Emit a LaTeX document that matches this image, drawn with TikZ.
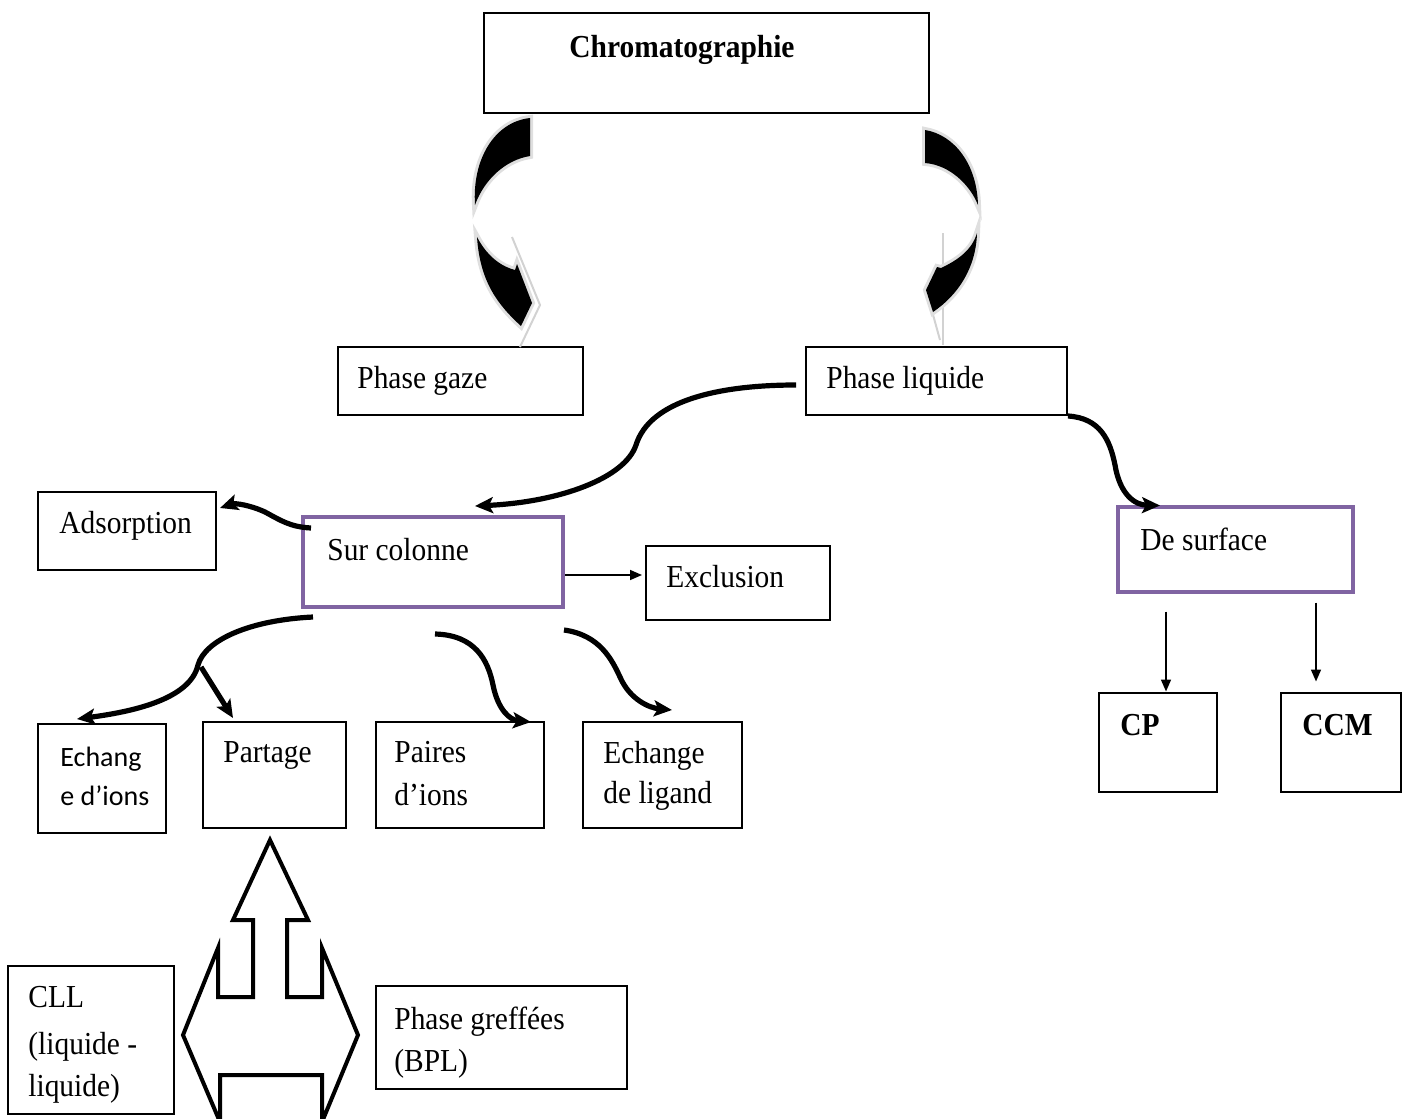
\documentclass[tikz,border=0pt]{standalone}
\usepackage{fontspec}
\setmainfont{Liberation Serif}[FakeStretch=0.92]
\newfontfamily\calfont{Carlito}
\usetikzlibrary{arrows.meta,calc}
\definecolor{purp}{RGB}{128,100,162}
\begin{document}
\begin{tikzpicture}[x=0.5pt,y=-0.5pt,
  box/.style 2 args={draw, line width=1pt, minimum width=#1*0.5pt, minimum height=#2*0.5pt, inner sep=0pt},
  pbox/.style 2 args={draw=purp, line width=2pt, minimum width=#1*0.5pt, minimum height=#2*0.5pt, inner sep=0pt},
  txt/.style={font=\fontsize{16}{22}\selectfont, inner sep=0pt, anchor=base west},
  btxt/.style={font=\fontsize{16}{22}\selectfont\bfseries, inner sep=0pt, anchor=base west},
  ctxt/.style={font=\fontsize{14}{20}\calfont, inner sep=0pt, anchor=base west},
  curvy/.style={line width=2.6pt, -{Stealth[length=9pt,width=8pt,inset=2pt]}},
  thin/.style={line width=0.8pt, -{Triangle[length=6pt,width=5pt]}},
  blob/.style={fill=black, preaction={draw=gray!25, line width=3pt}},
  shade/.style={draw=gray!35, line width=1pt}
]
\useasboundingbox (0,0) rectangle (1403,1119);

% boxes
\node[box={445}{100}] (chrom) at (706.5,63) {};
\node[box={245}{68}] (pg) at (460.5,381) {};
\node[box={261}{68}] (plq) at (936.5,381) {};
\node[box={178}{78}] (ads) at (127,531) {};
\node[pbox={260}{90}] (sc) at (433,562) {};
\node[box={184}{74}] (excl) at (738,583) {};
\node[pbox={235}{85}] (dsurf) at (1235.5,549) {};
\node[box={118}{99}] (cp) at (1158,742) {};
\node[box={120}{99}] (ccm) at (1341,742) {};
\node[box={128}{109}] (ech) at (102,778.5) {};
\node[box={143}{106}] (part) at (274.5,775) {};
\node[box={168}{106}] (paires) at (460,775) {};
\node[box={159}{106}] (lig) at (662.5,775) {};
\node[box={166}{148}] (cll) at (91,1040) {};
\node[box={251}{103}] (bpl) at (501.5,1037.5) {};

% texts
\node[btxt] (chrom-t) at (569,57) {Chromatographie};
\node[txt] (pg-t) at (357,388) {Phase gaze};
\node[txt] (plq-t) at (826,388) {Phase liquide};
\node[txt] (ads-t) at (59,533) {Adsorption};
\node[txt] (sc-t) at (327,560) {Sur colonne};
\node[txt] (excl-t) at (666,587) {Exclusion};
\node[txt] (ds-t) at (1140,550) {De surface};
\node[btxt] (cp-t) at (1120,735) {CP};
\node[btxt] (ccm-t) at (1302,735) {CCM};
\node[ctxt] (ech-t1) at (60,766) {Echang};
\node[ctxt] (ech-t2) at (60,805) {e d’ions};
\node[txt] (part-t) at (223,762) {Partage};
\node[txt] (paires-t1) at (394,762) {Paires};
\node[txt] (paires-t2) at (394,805) {d’ions};
\node[txt] (lig-t1) at (603,763) {Echange};
\node[txt] (lig-t2) at (603,803) {de ligand};
\node[txt] (cll-t1) at (28,1007) {CLL};
\node[txt] (cll-t2) at (28,1054) {(liquide -};
\node[txt] (cll-t3) at (28,1096) {liquide)};
\node[txt] (bpl-t1) at (394,1029) {Phase greffées};
\node[txt] (bpl-t2) at (394,1071) {(BPL)};

% big curved arrows (top)
\draw[shade] (512,237) -- (540,305) -- (520,347);
\draw[shade] (943,233) -- (943,345);
\draw[shade] (927,293) -- (940,340);
\path[blob] (530,118) .. controls (494,122) and (472,160) .. (475,205)
  .. controls (484,180) and (505,160) .. (530,156) -- cycle;
\path[blob] (477,237) .. controls (488,258) and (503,267) .. (515,270)
  -- (517,264) -- (532,303) -- (521,326)
  .. controls (498,305) and (480,282) .. (477,237) -- cycle;
\path[blob] (925,130) .. controls (955,135) and (977,165) .. (978,205)
  .. controls (970,185) and (950,165) .. (925,163) -- cycle;
\path[blob] (977,233) .. controls (976,268) and (958,295) .. (933,312)
  -- (926,290) -- (937,267) -- (941,268)
  .. controls (958,260) and (972,250) .. (977,233) -- cycle;

% curved connectors
\draw[curvy] ($(plq.west)+(-9,4)$) .. controls (720,385) and (650,400) .. (636,445)
  .. controls (625,478) and (560,502) .. ($(sc.north west)+(174,-9)$);
\draw[curvy] (plq.south east) .. controls (1100,418) and (1110,440) .. (1115,465)
  .. controls (1120,495) and (1135,505) .. ($(dsurf.north west)+(44,1)$);
\draw[curvy] ($(sc.north west)+(10,13)$) .. controls (290,527) and (280,520) .. (265,512)
  .. controls (250,505) and (235,503) .. ($(ads.east)+(3,-23)$);
\draw[curvy] ($(sc.south west)+(12,8)$) .. controls (250,620) and (205,640) .. (198,665)
  .. controls (190,700) and (130,712) .. ($(ech.north west)+(40,-4)$);
\draw[curvy] ($(sc.south west)+(-100,58)$) -- ($(part.north west)+(31,-3)$);
\draw[curvy] ($(sc.south)+(2,25)$) .. controls (475,635) and (488,660) .. (493,685)
  .. controls (498,710) and (510,720) .. ($(paires.north east)+(-14,1)$);
\draw[curvy] ($(sc.south east)+(-1,21)$) .. controls (600,635) and (612,660) .. (620,677)
  .. controls (630,700) and (650,708) .. ($(lig.north west)+(90,-11)$);

% straight thin arrows
\draw[thin] ($(sc.east)+(0,13)$) -- ($(excl.west)+(-3,-8)$);
\draw[thin] ($(cp.north)+(8,-80)$) -- ($(cp.north)+(8,0)$);
\draw[thin] ($(ccm.north)+(-25,-89)$) -- ($(ccm.north)+(-25,-10)$);

% three-way block arrow
\begin{scope}
\clip (0,0) rectangle (1403,1119);
\draw[line width=2pt, line join=miter] (270,840) -- (308,920) -- (287,920) -- (287,997) -- (322,997)
  -- (322,948) -- (358,1035) -- (322,1122) -- (322,1075) -- (220,1075) -- (220,1122)
  -- (183,1035) -- (218,948) -- (218,997) -- (253,997) -- (253,920) -- (233,920) -- cycle;
\end{scope}
\end{tikzpicture}
\end{document}
